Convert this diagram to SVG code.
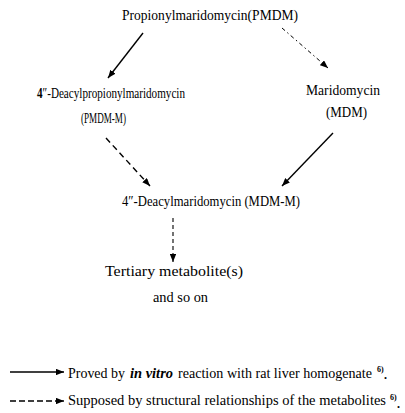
<svg xmlns="http://www.w3.org/2000/svg" width="405" height="413" viewBox="0 0 405 413" font-family="'Liberation Serif', 'Times New Roman', 'DejaVu Serif', serif">
<defs>
<marker id="ah" viewBox="0 0 10 8" refX="10" refY="4" markerWidth="8" markerHeight="6.4" markerUnits="userSpaceOnUse" orient="auto">
<path d="M0,0 L10,4 L0,8 z" fill="#000"/>
</marker>
</defs>
<style>
text{font-family:'Liberation Serif','Times New Roman','DejaVu Serif',serif;font-size:14px;fill:#000}
text.lg{font-size:14px}
text.it{font-style:italic;font-weight:bold}
text.sup{font-size:8px;font-weight:bold}
text.dot{font-size:12px;font-weight:bold}
.ln{stroke:#000;stroke-width:1.4;fill:none}
.solid{marker-end:url(#ah)}
.dash{stroke-dasharray:6,4;marker-end:url(#ah)}
.dd{stroke-width:1;stroke-dasharray:4,3,1.5,3;marker-end:url(#ah)}
.vd{stroke-width:1.1;stroke-dasharray:4,3;marker-end:url(#ah)}
</style>
<rect width="405" height="413" fill="#fff"/>
<g id="connectors">
<line class="ln solid" x1="143" y1="33" x2="108" y2="78"/>
<line class="ln dd" x1="282" y1="28" x2="328" y2="68"/>
<line class="ln dash" x1="106" y1="138" x2="150" y2="186"/>
<line class="ln solid" x1="333" y1="133" x2="282" y2="186"/>
<line class="ln vd" x1="173" y1="218" x2="173" y2="262"/>
</g>
<g id="PMDM"><text x="122" y="20" textLength="176" lengthAdjust="spacingAndGlyphs">Propionylmaridomycin(PMDM)</text></g>
<g id="PMDM-M">
<text x="37" y="98" textLength="148" lengthAdjust="spacingAndGlyphs"><tspan font-weight="bold">4</tspan>″-Deacylpropionylmaridomycin</text>
<text x="81" y="123" textLength="45" lengthAdjust="spacingAndGlyphs">(PMDM-M)</text>
</g>
<g id="MDM">
<text x="306" y="95" textLength="74" lengthAdjust="spacingAndGlyphs">Maridomycin</text>
<text x="326" y="117" textLength="41" lengthAdjust="spacingAndGlyphs">(MDM)</text>
</g>
<g id="MDM-M"><text x="122" y="206" textLength="178" lengthAdjust="spacingAndGlyphs">4″-Deacylmaridomycin (MDM-M)</text></g>
<g id="tertiary">
<text x="105" y="276" textLength="138" lengthAdjust="spacingAndGlyphs">Tertiary metabolite(s)</text>
<text x="153" y="302" textLength="55" lengthAdjust="spacingAndGlyphs">and so on</text>
</g>
<g id="legend">
<line class="ln solid" x1="10" y1="372" x2="64" y2="372"/>
<text class="lg" x="68" y="378" textLength="57" lengthAdjust="spacingAndGlyphs">Proved by</text>
<text class="lg it" x="130" y="378" textLength="43" lengthAdjust="spacingAndGlyphs">in vitro</text>
<text class="lg" x="178" y="378" textLength="194" lengthAdjust="spacingAndGlyphs">reaction with rat liver homogenate</text>
<text class="sup" x="377" y="372">6)</text>
<text class="dot" x="384" y="379">.</text>
<line class="ln" x1="10" y1="401" x2="57" y2="401" style="stroke-dasharray:6,3"/>
<line class="ln solid" x1="56" y1="401" x2="64" y2="401"/>
<text class="lg" x="68" y="405" textLength="318" lengthAdjust="spacingAndGlyphs">Supposed by structural relationships of the metabolites</text>
<text class="sup" x="390" y="400">6)</text>
<text class="dot" x="397" y="408">.</text>
</g>
</svg>
